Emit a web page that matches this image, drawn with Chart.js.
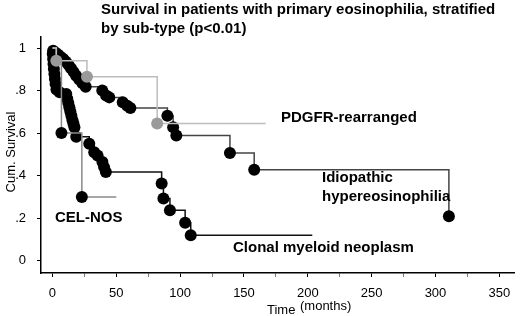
<!DOCTYPE html>
<html>
<head>
<meta charset="utf-8">
<script src="https://cdn.jsdelivr.net/npm/chart.js@4.4.0/dist/chart.umd.min.js"></script>
<style>
  body { margin: 0; background: #fff; }
  #wrap { width: 520px; height: 316px; position: relative; }
</style>
</head>
<body>
<div id="wrap"><canvas id="kmChart"></canvas></div>
<script>
// survival curves (months, cumulative survival)
const pdgfrMonths = [0, 3, 27, 82, 167];
const pdgfrSurv = [1, 0.94, 0.865, 0.645, 0.645];

const celMonths = [0, 3, 7, 23, 50];
const celSurv = [1, 0.93, 0.6, 0.3, 0.3];

const idioMonths = [0, 0.5, 2.5, 4.5, 6.5, 8.5, 10.5, 12.5, 14.5, 16.5, 18.5, 21, 23.5, 26,
                    39, 42, 44.5, 55, 58.5, 61, 90, 94.5, 97, 139, 158, 310.5];
const idioSurv = [1, 0.987, 0.978, 0.968, 0.958, 0.948, 0.936, 0.922, 0.905, 0.888, 0.87, 0.852, 0.835, 0.818,
                  0.8, 0.777, 0.768, 0.745, 0.729, 0.718, 0.682, 0.628, 0.589, 0.506, 0.428, 0.209];

const clonalMonths = [0, 0.2, 0.5, 0.8, 1.1, 1.5, 1.9, 2.4, 3.1, 5.6, 10.8, 11.6, 12.4, 13.2, 14, 14.8,
                      15.6, 16.4, 17.2, 18.6, 28.8, 32.7, 35.3, 39.1, 40.4, 41.8, 85.5, 86.9, 92, 103.9, 108.3, 203.5];
const clonalSurv = [1, 0.972, 0.948, 0.925, 0.902, 0.878, 0.855, 0.831, 0.805, 0.792, 0.784, 0.762, 0.742, 0.722, 0.702, 0.682,
                    0.662, 0.645, 0.628, 0.583, 0.55, 0.51, 0.495, 0.464, 0.44, 0.417, 0.363, 0.292, 0.237, 0.178, 0.12, 0.12];

const xTicks = [0, 25, 50, 75, 100, 125, 150, 175, 200, 225, 250, 275, 300, 325, 350];
const yTicks = [0, 0.2, 0.4, 0.6, 0.8, 1];

function pts(months, surv) {
    return months.map((m, i) => ({ x: m, y: surv[i] }));
}

// dots on every step, none at the start, optionally none on the tail
function dotSizes(months, tail) {
    return months.map((m, i) => (i === 0 || (tail && i === months.length - 1)) ? 0 : 6);
}

const ctx = document.getElementById("kmChart").getContext("2d");

const textPlugin = {
    id: "texts",
    afterDraw(chart) {
        const c = chart.ctx;
        c.save();
        c.fillStyle = "#000";
        c.textBaseline = "middle";
        c.textAlign = "left";
        c.font = "bold 15px 'Liberation Sans', Arial, sans-serif";
        c.fillText("Survival in patients with primary eosinophilia, stratified", 101, 10);
        c.fillText("by sub-type (p<0.01)", 101, 29);

        c.fillText("PDGFR-rearranged", 281, 118);
        c.fillText("Idiopathic", 322, 178);
        c.fillText("hypereosinophilia", 322, 197);
        c.fillText("CEL-NOS", 55, 218);
        c.fillText("Clonal myeloid neoplasm", 233, 248);

        c.font = "13px 'Liberation Sans', Arial, sans-serif";
        c.fillText("Time", 267, 310);
        c.fillText("(months)", 300, 306);

        c.translate(11, 152);
        c.rotate(-Math.PI / 2);
        c.textAlign = "center";
        c.fillText("Cum. Survival", 0, 0);
        c.restore();
    }
};

const kmChart = new Chart(ctx, {
    type: "line",
    data: {
        datasets: [
            {
                label: "PDGFR-rearranged",
                data: pts(pdgfrMonths, pdgfrSurv),
                stepped: "before",
                borderColor: "#bdbdbd",
                borderWidth: 1.5,
                pointRadius: dotSizes(pdgfrMonths, true),
                pointBackgroundColor: "#9a9a9a",
                pointBorderWidth: 0
            },
            {
                label: "CEL-NOS",
                data: pts(celMonths, celSurv),
                stepped: "before",
                borderColor: "#8a8a8a",
                borderWidth: 1.5,
                pointRadius: dotSizes(celMonths, true).map((r, i) => i === 1 ? 0 : r),
                pointBackgroundColor: "#000",
                pointBorderWidth: 0
            },
            {
                label: "Idiopathic hypereosinophilia",
                data: pts(idioMonths, idioSurv),
                stepped: "before",
                borderColor: "#444",
                borderWidth: 1.5,
                pointRadius: dotSizes(idioMonths, false),
                pointBackgroundColor: "#000",
                pointBorderWidth: 0
            },
            {
                label: "Clonal myeloid neoplasm",
                data: pts(clonalMonths, clonalSurv),
                stepped: "before",
                borderColor: "#111",
                borderWidth: 1.5,
                pointRadius: dotSizes(clonalMonths, true),
                pointBackgroundColor: "#000",
                pointBorderWidth: 0
            }
        ]
    },
    options: {
        responsive: true,
        maintainAspectRatio: false,
        animation: false,
        layout: { padding: { top: 37, right: 0, left: 0, bottom: 0 } },
        plugins: {
            legend: { display: false },
            title: { display: false },
            tooltip: { enabled: false }
        },
        scales: {
            x: {
                type: "linear",
                min: -9,
                max: 361.5,
                afterBuildTicks: s => { s.ticks = xTicks.map(v => ({ value: v })); },
                afterFit: s => { s.height = 43; },
                ticks: {
                    autoSkip: false,
                    maxRotation: 0,
                    padding: 9,
                    color: "#000",
                    font: { family: "'Liberation Sans', Arial, sans-serif", size: 13 },
                    callback: v => (v % 50 === 0 ? String(v) : "")
                },
                grid: {
                    drawOnChartArea: false,
                    tickLength: 4,
                    tickColor: c => (c.tick && c.tick.value % 50 === 0 ? "#000" : "#777")
                },
                border: { color: "#000", width: 1.5 }
            },
            y: {
                min: -0.058,
                max: 1.052,
                afterBuildTicks: s => { s.ticks = yTicks.map(v => ({ value: v })); },
                afterFit: s => { s.width = 41; },
                ticks: {
                    padding: 11,
                    color: "#000",
                    font: { family: "'Liberation Sans', Arial, sans-serif", size: 13 },
                    callback: v => (v === 0 ? "0" : v === 1 ? "1" : v.toFixed(1).replace("0.", "."))
                },
                grid: { drawOnChartArea: false, tickLength: 4, tickColor: "#000" },
                border: { color: "#000", width: 1.5 }
            }
        }
    },
    plugins: [textPlugin]
});
</script>
</body>
</html>
